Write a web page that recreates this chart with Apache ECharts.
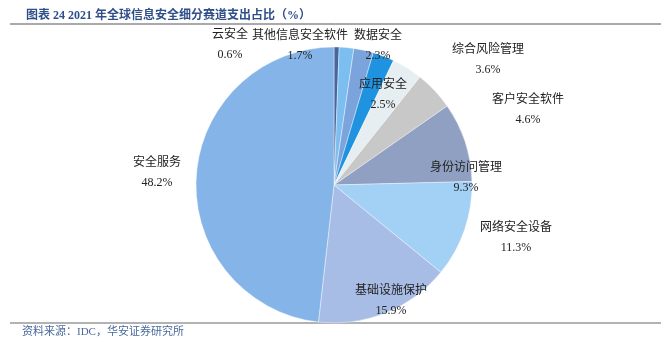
<!DOCTYPE html>
<html>
<head>
<meta charset="utf-8">
<script src="https://cdn.jsdelivr.net/npm/echarts@6/dist/echarts.min.js"></script>
<style>
  html, body { margin: 0; padding: 0; background: #fff; }
  #chart { width: 672px; height: 354px; }
</style>
</head>
<body>
<div id="chart"></div>
<script>
// slices in clockwise order from 12 o'clock
const names = ['云安全', '其他信息安全软件', '数据安全', '应用安全', '综合风险管理',
  '客户安全软件', '身份访问管理', '网络安全设备', '基础设施保护', '安全服务']
const shares = [0.6, 1.7, 2.3, 2.5, 3.6, 4.6, 9.3, 11.3, 15.9, 48.2]

const colors = ['#46679b', '#7dbef0', '#7ba3dc', '#1f93df', '#e6eef2',
  '#c8c8c8', '#8fa0c2', '#a3d0f5', '#a8bde6', '#85b5e8']
// label block offsets from the pie centre (the Excel "best fit" spots)
const labelOffsets = [[-104, -140], [-34, -139], [44, -139], [49, -90], [154, -125],
  [194, -75], [132, -7], [182, 53], [57, 116], [-177, -12]]

const cx = 334
const cy = 185
const font = '"Liberation Serif", "Noto Sans CJK SC", serif'

const chart = echarts.init(document.getElementById('chart'))
const option = {
  animation: false,
  title: {
    text: '图表 24 2021 年全球信息安全细分赛道支出占比（%）',
    left: 21,
    top: 5,
    textStyle: { fontFamily: font, fontSize: 12, fontWeight: 'bold', color: '#2f4f8a' },
  },
  graphic: [
    { type: 'line', shape: { x1: 10, y1: 24, x2: 661, y2: 24 }, style: { stroke: '#555', lineWidth: 1 } },
    { type: 'line', shape: { x1: 10, y1: 323, x2: 661, y2: 323 }, style: { stroke: '#999', lineWidth: 1.5 } },
    {
      type: 'text',
      left: 22,
      top: 327,
      style: { text: '资料来源：IDC，华安证券研究所', font: '11px ' + font, fill: '#4a6a9c' },
    },
  ],
  series: [
    {
      type: 'pie',
      center: [cx, cy],
      radius: 138,
      startAngle: 90,
      clockwise: true,
      data: names.map((n, i) => ({ name: n, value: shares[i], itemStyle: { color: colors[i] } })),
      itemStyle: { borderColor: '#fff', borderWidth: 0.4 },
      label: {
        show: true,
        formatter: p => `${p.name}\n${p.value.toFixed(1)}%`,
        fontFamily: font,
        fontSize: 12,
        lineHeight: 20,
        color: '#222',
        align: 'center',
      },
      labelLine: { show: false },
      labelLayout: (params) => {
        const o = labelOffsets[params.dataIndex]
        return { x: cx + o[0], y: cy + o[1], align: 'center', verticalAlign: 'middle' }
      },
      emphasis: { disabled: true },
    },
  ],
}
chart.setOption(option)
</script>
</body>
</html>
